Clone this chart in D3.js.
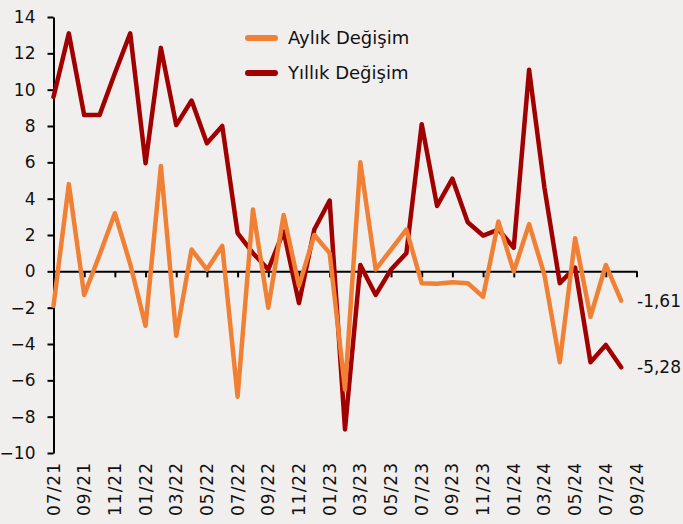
<!DOCTYPE html>
<html lang="tr">
  <head>
    <meta charset="utf-8">
    <script src="https://d3js.org/d3.v7.min.js"></script>
    <title>Aylık / Yıllık Değişim</title>
  </head>
  <body style="margin:0;background:#f1efee;">

    <style>
      text { font-family: "DejaVu Sans", Verdana, sans-serif; fill:#111; }
      .axis path, .axis line { stroke:#000; stroke-width:2px; }
    </style>

    <script>

      // data

      var months=["07/21","08/21","09/21","10/21","11/21","12/21",
        "01/22","02/22","03/22","04/22","05/22","06/22","07/22","08/22","09/22","10/22","11/22","12/22",
        "01/23","02/23","03/23","04/23","05/23","06/23","07/23","08/23","09/23","10/23","11/23","12/23",
        "01/24","02/24","03/24","04/24","05/24","06/24","07/24","08/24","09/24"];

      var tickMonths=["07/21","09/21","11/21","01/22","03/22","05/22","07/22","09/22","11/22",
        "01/23","03/23","05/23","07/23","09/23","11/23","01/24","03/24","05/24","07/24","09/24"];

      var aylik=[-1.9,4.8,-1.3,0.9,3.2,0.4,-3.0,5.8,-3.55,1.2,0.1,1.4,-6.9,3.4,-2.0,3.1,-0.8,2.0,
        1.0,-6.5,6.0,0.1,1.2,2.3,-0.65,-0.68,-0.6,-0.65,-1.4,2.74,0.0,2.6,-0.2,-5.0,1.82,-2.5,0.35,-1.61];

      var yillik=[9.6,13.1,8.6,8.6,10.9,13.1,5.95,12.3,8.05,9.4,7.05,8.0,2.1,1.0,0.1,2.2,-1.75,2.3,
        3.9,-8.7,0.35,-1.3,0.1,1.0,8.1,3.6,5.1,2.7,1.97,2.3,1.3,11.1,4.6,-0.65,0.2,-5.0,-4.05,-5.28];

      var yTicks=[-10,-8,-6,-4,-2,0,2,4,6,8,10,12,14];

      var series=[
        {name:"Yıllık Değişim", values:yillik, color:"#a00000"},
        {name:"Aylık Değişim", values:aylik, color:"#f08034"}
      ];

      // SVG

      var width=683, height=524;
      var svg=d3.select("body").append("svg").attr("width",width).attr("height",height)
        .style("display","block");

      var x=d3.scalePoint().domain(months).range([53.5,636.5]);
      var y=d3.scaleLinear().domain([-10,14]).range([453,17]);

      // Y axis

      svg.append("g").attr("class","axis").attr("transform","translate(53.5,0)")
        .call(d3.axisLeft(y).tickValues(yTicks).tickSize(6).tickPadding(12).tickSizeOuter(0))
        .call(function(g){ g.selectAll("text").style("font-size","17px").attr("font-family",null); });

      // zero axis with ticks

      svg.append("g").attr("class","axis").attr("transform","translate(0,"+y(0)+")")
        .call(d3.axisBottom(x).tickValues(tickMonths).tickSize(6).tickSizeOuter(0).tickFormat(""));

      // bottom labels

      svg.append("g").selectAll("text").data(tickMonths).enter().append("text")
        .attr("transform",function(d){ return "translate("+(x(d)+6)+",462) rotate(-90)"; })
        .attr("text-anchor","end")
        .style("font-size","17px")
        .style("letter-spacing","1px")
        .text(function(d){ return d; });

      // lines

      var line=d3.line()
        .x(function(d,i){ return x(months[i]); })
        .y(function(d){ return y(d); });

      svg.selectAll("path.series").data(series).enter().append("path")
        .attr("class","series")
        .attr("d",function(d){ return line(d.values); })
        .attr("fill","none")
        .attr("stroke",function(d){ return d.color; })
        .attr("stroke-width",4.5)
        .attr("stroke-linejoin","round")
        .attr("stroke-linecap","round");

      // end labels

      series.forEach(function(s){
        var last=s.values[s.values.length-1];
        svg.append("text").attr("x",637).attr("y",y(last)+6)
          .style("font-size","17px")
          .text(String(last.toFixed(2)).replace(".",","));
      });

      // legend

      var legend=[series[1],series[0]];
      var lg=svg.append("g").selectAll("g").data(legend).enter().append("g")
        .attr("transform",function(d,i){ return "translate(248,"+(38+i*35)+")"; });
      lg.append("line").attr("x1",0).attr("x2",27)
        .attr("stroke",function(d){ return d.color; })
        .attr("stroke-width",6).attr("stroke-linecap","round");
      lg.append("text").attr("x",40).attr("y",6)
        .style("font-size","18px")
        .text(function(d){ return d.name; });

    </script>

  </body>
</html>
